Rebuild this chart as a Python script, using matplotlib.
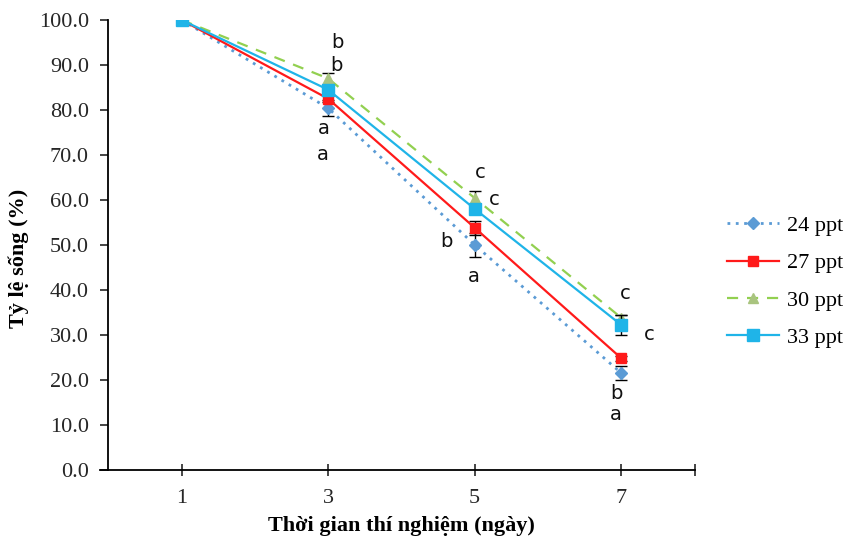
import numpy as np
import matplotlib
matplotlib.use('Agg')
import matplotlib.pyplot as plt

days = [1, 3, 5, 7]
series = ['24 ppt', '27 ppt', '30 ppt', '33 ppt']
v24 = [100.0, 80.4, 50.0, 21.5]
v27 = [100.0, 82.5, 53.8, 24.8]
v30 = [100.0, 87.0, 60.4, 33.8]
v33 = [100.0, 84.5, 58.0, 32.2]
e24 = [0.0, 1.8, 2.6, 1.6]
e27 = [0.0, 0.8, 1.5, 0.6]
e30 = [0.0, 1.3, 1.6, 0.6]
e33 = [0.0, 1.0, 1.0, 2.2]

# significance letters: (x, y, letter)
letters = [(3.13, 94.9, 'b'), (3.12, 89.8, 'b'), (2.94, 75.8, 'a'), (2.93, 70.2, 'a'),
           (5.07, 66.0, 'c'), (5.26, 60.2, 'c'), (4.62, 50.7, 'b'), (4.99, 42.9, 'a'),
           (7.05, 39.3, 'c'), (7.38, 30.0, 'c'), (6.94, 16.9, 'b'), (6.93, 12.2, 'a')]

plt.rcParams['font.family'] = ['Liberation Serif', 'DejaVu Serif']

fig = plt.figure(figsize=(8.46, 5.4), dpi=100)
ax = fig.add_axes([0.128, 0.13, 0.693, 0.833])

styles = [
    dict(color='#5B9BD5', ls=(0, (1, 2)), lw=2, marker='D', ms=6, mfc='#5B9BD5', mec='#5B9BD5'),
    dict(color='#FF1A1A', ls='-', lw=1.6, marker='s', ms=6.5, mfc='#FF1A1A', mec='#FF1A1A'),
    dict(color='#92D050', ls=(0, (5, 4)), lw=1.6, marker='^', ms=7.5, mfc='#A9C47F', mec='#A9C47F'),
    dict(color='#1FB4E8', ls='-', lw=1.6, marker='s', ms=9, mfc='#1FB4E8', mec='#1FB4E8'),
]
vals = [v24, v27, v30, v33]
errs = [e24, e27, e30, e33]

for name, v, e, st in zip(series, vals, errs, styles):
    ax.errorbar(days, v, yerr=e, fmt='none', ecolor='black', elinewidth=1,
                capsize=4, capthick=1)
    ax.plot(days, v, label=name, **st)

for x, y, t in letters:
    ax.text(x, y, t, fontsize=14, family='DejaVu Sans', ha='center', va='center', color='#111111')

ax.set_xlim(0, 8)
ax.set_ylim(0, 100)
ax.set_xticks([1, 3, 5, 7, 8])
ax.set_xticklabels(['1', '3', '5', '7', ''])
ax.set_yticks(np.arange(0, 101, 10))
ax.set_yticklabels(['%.1f' % t for t in np.arange(0, 101, 10)])
ax.tick_params(axis='x', direction='inout', length=9, width=1.2, labelsize=16, pad=9, colors='#262626')
ax.tick_params(axis='y', direction='out', length=6, width=1.2, labelsize=16, pad=8, colors='#262626')
for s in ['top', 'right']:
    ax.spines[s].set_visible(False)
for s in ['left', 'bottom']:
    ax.spines[s].set_linewidth(1.3)
    ax.spines[s].set_color('black')
ax.spines['bottom'].set_bounds(-0.11, 8)

ax.set_xlabel('Thời gian thí nghiệm (ngày)', fontsize=16, fontweight='bold', va='top')
ax.xaxis.set_label_coords(0.5, -0.102)
ax.set_ylabel('Tỷ lệ sống (%)', fontsize=16, fontweight='bold')
ax.yaxis.set_label_coords(-0.136, 0.47)

leg = ax.legend(loc='center left', bbox_to_anchor=(1.056, 0.418), frameon=False,
                fontsize=16, handlelength=2.3, labelspacing=0.75, handletextpad=0.4,
                borderpad=0, borderaxespad=0)

fig.savefig('out.png', dpi=100)
